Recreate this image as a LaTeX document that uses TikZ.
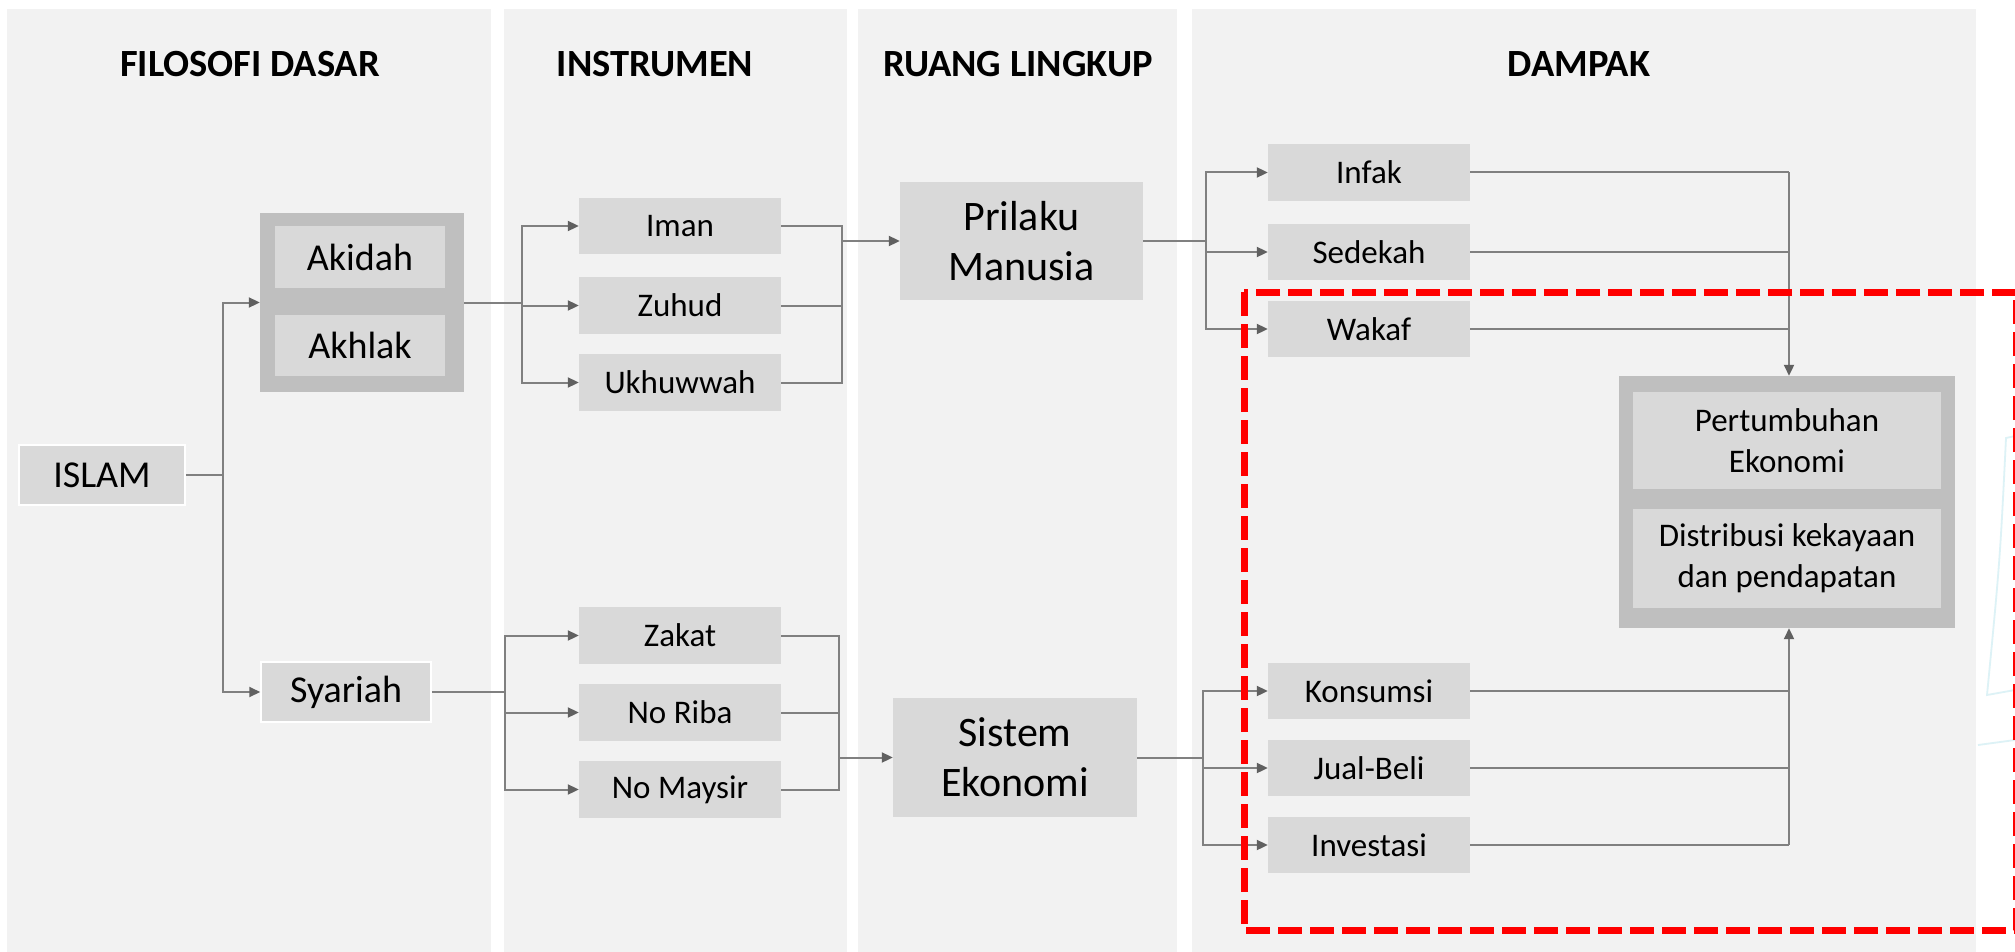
\documentclass[tikz,border=0pt]{standalone}
\usepackage{fontspec}
\setmainfont{Carlito}
\usetikzlibrary{arrows.meta}
\definecolor{panelbg}{HTML}{F2F2F2}
\definecolor{boxfill}{HTML}{D9D9D9}
\definecolor{outerfill}{HTML}{BFBFBF}
\definecolor{linegray}{HTML}{808080}
\definecolor{tipgray}{HTML}{606060}
\definecolor{faintcyan}{HTML}{DDF2F6}
\definecolor{dashred}{HTML}{FF0000}
\begin{document}
\begin{tikzpicture}[x=1pt,y=-1pt,
  box/.style={fill=boxfill, inner sep=0pt, align=center, font=\fontsize{33}{41}\selectfont},
  smallbox/.style={box, minimum width=202pt, minimum height=57pt},
  midbox/.style={box, font=\fontsize{38}{46}\selectfont},
  bigbox/.style={box, font=\fontsize{42}{50}\selectfont, minimum width=243pt, minimum height=118pt},
  outerbox/.style={fill=outerfill, inner sep=0pt},
  title/.style={inner sep=0pt, font=\fontsize{38.5}{42}\selectfont\bfseries},
  conn/.style={draw=linegray, line width=2pt},
  arr/.style={conn, -{Triangle[length=11pt,width=10pt,color=tipgray]}}
]
\useasboundingbox (0,0) rectangle (2015,952);
\fill[white] (0,0) rectangle (2015,952);
% panels
\fill[panelbg] (7,9) rectangle (491,952);
\fill[panelbg] (504,9) rectangle (847,952);
\fill[panelbg] (858,9) rectangle (1177,952);
\fill[panelbg] (1192,9) rectangle (1976,952);
% faint background sketch
\draw[faintcyan, line width=1.8pt] (2015,436) -- (2006,438) .. controls (2000,560) .. (1987,695) -- (2015,690);
\draw[faintcyan, line width=1.8pt] (1978,745) -- (2015,740);
% titles
\node[title] (t1) at (250,64) {FILOSOFI DASAR};
\node[title] (t2) at (655,64) {INSTRUMEN};
\node[title] (t3) at (1018,64) {RUANG LINGKUP};
\node[title] (t4) at (1579,64) {DAMPAK};
% column 1
\node[midbox, draw=white, line width=1.5pt, minimum width=166pt, minimum height=60pt] (islam) at (102,475) {ISLAM};
\node[outerbox, minimum width=204pt, minimum height=179pt] (akouter) at (362,302.5) {};
\node[midbox, minimum width=170pt, minimum height=62pt] (akidah) at (360,257) {Akidah};
\node[midbox, minimum width=170pt, minimum height=61pt] (akhlak) at (360,345.5) {Akhlak};
\node[midbox, draw=white, line width=1.5pt, minimum width=170pt, minimum height=60pt] (syariah) at (346,692) {Syariah};
% column 2
\node[smallbox, minimum height=56pt] (iman) at (680,226) {Iman};
\node[smallbox] (zuhud) at (680,305.5) {Zuhud};
\node[smallbox] (ukhuwwah) at (680,382.5) {Ukhuwwah};
\node[smallbox] (zakat) at (680,635.5) {Zakat};
\node[smallbox] (noriba) at (680,712.5) {No Riba};
\node[smallbox] (nomaysir) at (680,789.5) {No Maysir};
% column 3
\node[bigbox] (prilaku) at (1021.5,241) {Prilaku\\Manusia};
\node[bigbox, minimum width=244pt, minimum height=119pt] (sistem) at (1015,757.5) {Sistem\\Ekonomi};
% column 4
\node[smallbox] (infak) at (1369,172.5) {Infak};
\node[smallbox, minimum height=56pt] (sedekah) at (1369,252) {Sedekah};
\node[smallbox, minimum height=56pt] (wakaf) at (1369,329) {Wakaf};
\node[smallbox, minimum height=56pt] (konsumsi) at (1369,691) {Konsumsi};
\node[smallbox, minimum height=56pt] (jualbeli) at (1369,768) {Jual-Beli};
\node[smallbox, minimum height=56pt] (investasi) at (1369,845) {Investasi};
\node[outerbox, minimum width=336pt, minimum height=252pt] (pouter) at (1787,502) {};
\node[box, minimum width=308pt, minimum height=97pt] (pertumbuhan) at (1787,440.5) {Pertumbuhan\\Ekonomi};
\node[box, minimum width=308pt, minimum height=99pt] (distribusi) at (1787,558.5) {Distribusi kekayaan\\dan pendapatan};
% junction columns
\coordinate (ja) at (223,0);
\coordinate (jb) at (522,0);
\coordinate (jc) at (505,0);
\coordinate (jd) at (841.5,0);
\coordinate (je) at (839,0);
\coordinate (jf) at (1205.5,0);
\coordinate (jg) at (1203,0);
\coordinate (jh) at (1789,0);
% ISLAM -> Akidah/Akhlak, Syariah
\draw[conn] (islam.east) -- (islam.east -| ja);
\draw[arr] (islam.east -| ja) |- (akouter.west);
\draw[arr] (islam.east -| ja) |- (syariah.west);
% Akidah/Akhlak -> instruments
\draw[conn] (akouter.east) -- (akouter.east -| jb);
\draw[arr] (akouter.east -| jb) |- (iman.west);
\draw[arr] (akouter.east -| jb) |- (zuhud.west);
\draw[arr] (akouter.east -| jb) |- (ukhuwwah.west);
% instruments -> Prilaku
\draw[conn] (iman.east) -| (ukhuwwah.east -| jd) -- (ukhuwwah.east);
\draw[conn] (zuhud.east) -- (zuhud.east -| jd);
\draw[arr] (prilaku.west -| jd) -- (prilaku.west);
% Syariah -> instruments
\draw[conn] (syariah.east) -- (syariah.east -| jc);
\draw[arr] (syariah.east -| jc) |- (zakat.west);
\draw[arr] (syariah.east -| jc) |- (noriba.west);
\draw[arr] (syariah.east -| jc) |- (nomaysir.west);
% instruments -> Sistem
\draw[conn] (zakat.east) -| (nomaysir.east -| je) -- (nomaysir.east);
\draw[conn] (noriba.east) -- (noriba.east -| je);
\draw[arr] (sistem.west -| je) -- (sistem.west);
% Prilaku -> Infak etc.
\draw[conn] (prilaku.east) -- (prilaku.east -| jf);
\draw[arr] (prilaku.east -| jf) |- (infak.west);
\draw[arr] (prilaku.east -| jf) |- (sedekah.west);
\draw[arr] (prilaku.east -| jf) |- (wakaf.west);
% Sistem -> Konsumsi etc.
\draw[conn] (sistem.east) -- (sistem.east -| jg);
\draw[arr] (sistem.east -| jg) |- (konsumsi.west);
\draw[arr] (sistem.east -| jg) |- (jualbeli.west);
\draw[arr] (sistem.east -| jg) |- (investasi.west);
% to Pertumbuhan box
\draw[conn] (infak.east) -- (infak.east -| jh);
\draw[conn] (sedekah.east) -- (sedekah.east -| jh);
\draw[conn] (wakaf.east) -- (wakaf.east -| jh);
\draw[arr] (infak.east -| jh) -- (pouter.north -| jh);
\draw[conn] (konsumsi.east) -- (konsumsi.east -| jh);
\draw[conn] (jualbeli.east) -- (jualbeli.east -| jh);
\draw[conn] (investasi.east) -- (investasi.east -| jh);
\draw[arr] (investasi.east -| jh) -- (pouter.south -| jh);
% red dashed highlight
\draw[dashred, line width=7pt, dash pattern=on 24pt off 8pt] (1244,292) rectangle (2016,930);
\end{tikzpicture}
\end{document}
